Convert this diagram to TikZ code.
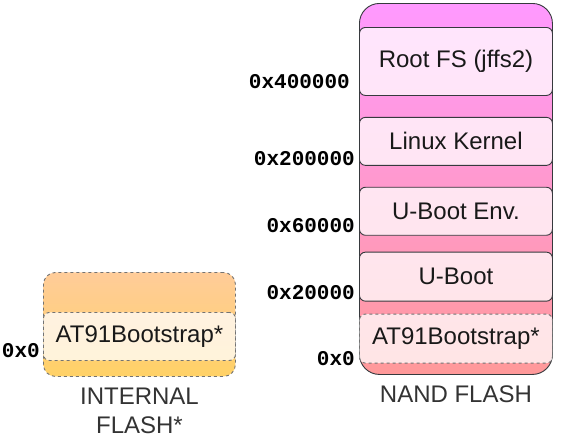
\documentclass[tikz,border=0pt]{standalone}
\usepackage{fontspec}
\setmainfont{Liberation Sans}
\setmonofont{Liberation Mono}
\usetikzlibrary{positioning, calc}

\definecolor{nandtop}{HTML}{FF99FF}
\definecolor{nandbot}{HTML}{FF9999}
\definecolor{inttop}{HTML}{FFCC99}
\definecolor{intbot}{HTML}{FFD166}
\definecolor{edgegray}{HTML}{36393D}

\tikzset{
  flashbody/.style={rounded corners=20pt, draw=edgegray, line width=0.9pt, inner sep=0pt, anchor=north west},
  region/.style={rounded corners=6pt, draw=edgegray, line width=0.9pt, fill=white, fill opacity=0.75, text opacity=1,
    minimum width=193pt, inner sep=0pt, text=black!90, font=\fontsize{24}{28}\selectfont},
  dashregion/.style={region, draw=black!55, dashed},
  addr/.style={font=\ttfamily\bfseries\fontsize{21}{24}\selectfont, inner sep=0pt},
  flashname/.style={font=\fontsize{24}{28.5}\selectfont, text=black!80, align=center, inner sep=0pt},
}

\begin{document}
\begin{tikzpicture}[x=1pt,y=1pt]
  \useasboundingbox (0,0) rectangle (570,-439);

  % nand flash
  \node[flashbody, top color=nandtop, bottom color=nandbot, minimum width=193pt, minimum height=371pt] (nand) at (359,-3) {};
  \node[region, minimum height=68pt, anchor=north west] (rootfs) at (359,-27) {Root FS (jffs2)};
  \node[region, minimum height=48pt, below=21pt of rootfs] (kernel) {Linux Kernel};
  \node[region, minimum height=48pt, below=21pt of kernel] (ubootenv) {U-Boot Env.};
  \node[region, minimum height=49pt, below=16pt of ubootenv] (uboot) {U-Boot};
  \node[dashregion, minimum height=49pt, below=12pt of uboot] (nandboot) {AT91Bootstrap*};

  \node[addr, left=9pt of rootfs.south west, yshift=14pt] (a400) {0x400000};
  \node[addr, left=4pt of kernel.south west, yshift=7pt] (a200) {0x200000};
  \node[addr, left=4pt of ubootenv.south west, yshift=10pt] (a60) {0x60000};
  \node[addr, left=4pt of uboot.south west, yshift=9pt] (a20) {0x20000};
  \node[addr, left=4pt of nandboot.south west, yshift=5pt] (a0nand) {0x0};

  \node[flashname, below=11pt of nand] (nandname) {NAND FLASH};

  % internal flash
  \node[flashbody, rounded corners=12pt, draw=black!55, dashed, top color=inttop, bottom color=intbot,
    minimum width=192pt, minimum height=104pt] (intflash) at (43,-272) {};
  \node[dashregion, minimum width=192pt, minimum height=48pt, anchor=north west] (intboot) at (43,-312) {AT91Bootstrap*};
  \node[addr, left=3pt of intboot.south west, yshift=10pt] (a0int) {0x0};

  \node[flashname, below=11pt of intflash] (intname) {INTERNAL\\FLASH*};
\end{tikzpicture}
\end{document}
